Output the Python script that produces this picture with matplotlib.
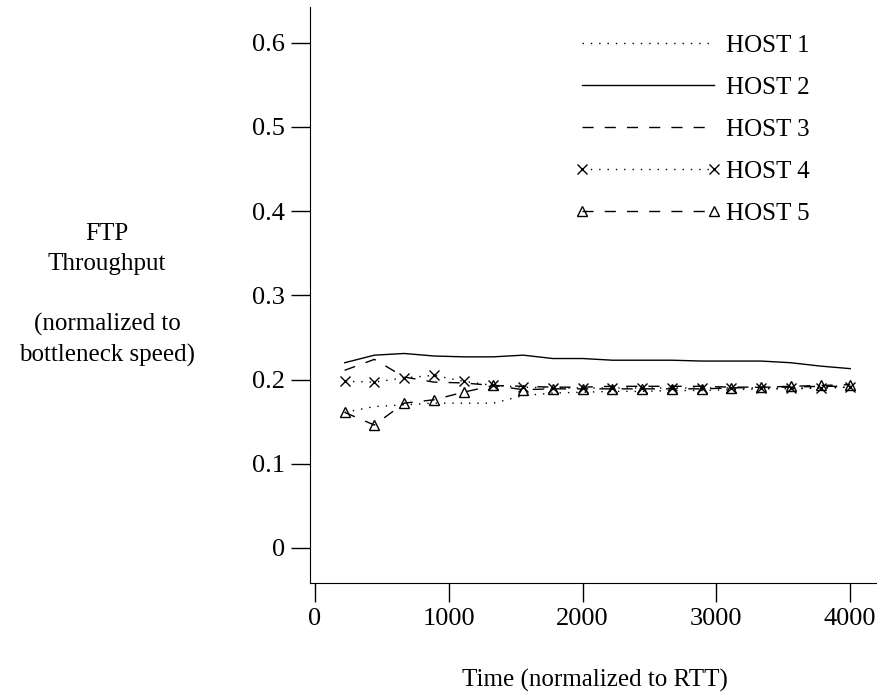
import matplotlib.pyplot as plt
import numpy as np

plt.rcParams['font.family'] = ['Liberation Serif', 'DejaVu Serif']

# time in RTT units
t = [222, 444, 667, 889, 1111, 1333, 1556, 1778, 2000,
     2222, 2444, 2667, 2889, 3111, 3333, 3556, 3778, 4000]

host1 = [0.161, 0.168, 0.170, 0.172, 0.172, 0.172, 0.181, 0.184, 0.185,
         0.186, 0.186, 0.187, 0.187, 0.188, 0.189, 0.189, 0.190, 0.191]
host2 = [0.220, 0.229, 0.231, 0.228, 0.227, 0.227, 0.229, 0.225, 0.225,
         0.223, 0.223, 0.223, 0.222, 0.222, 0.222, 0.220, 0.216, 0.213]
host3 = [0.211, 0.224, 0.203, 0.197, 0.196, 0.193, 0.192, 0.191, 0.191,
         0.192, 0.192, 0.192, 0.192, 0.191, 0.191, 0.191, 0.192, 0.192]
host4 = [0.198, 0.197, 0.202, 0.205, 0.198, 0.193, 0.191, 0.190, 0.190,
         0.190, 0.190, 0.190, 0.190, 0.190, 0.190, 0.190, 0.190, 0.191]
host5 = [0.161, 0.146, 0.172, 0.176, 0.185, 0.193, 0.188, 0.189, 0.189,
         0.189, 0.189, 0.189, 0.189, 0.190, 0.191, 0.192, 0.193, 0.194]

xticks = [0, 1000, 2000, 3000, 4000]
yticks = [0, 0.1, 0.2, 0.3, 0.4, 0.5, 0.6]
ytick_labels = ['0', '0.1', '0.2', '0.3', '0.4', '0.5', '0.6']

fig = plt.figure(figsize=(8.77, 6.98), dpi=100)
ax = fig.add_axes([310 / 877, 1 - 583 / 698, (877 - 310) / 877, (583 - 7) / 698])

dot = (0, (1, 5))
dash = (0, (8, 8))
ax.plot(t, host1, color='black', lw=1, ls=dot, label='HOST 1')
ax.plot(t, host2, color='black', lw=1, ls='-', label='HOST 2')
ax.plot(t, host3, color='black', lw=1, ls=dash, label='HOST 3')
ax.plot(t, host4, color='black', lw=1, ls=dot, marker='x', ms=6.5,
        mew=1, label='HOST 4')
ax.plot(t, host5, color='black', lw=1, ls=dash, marker='^', ms=6.5,
        mfc='none', mew=1, label='HOST 5')

ax.set_xlim(-37, 4200)
ax.set_ylim(-0.0416, 0.6425)
ax.set_xticks(xticks)
ax.set_yticks(yticks)
ax.set_yticklabels(ytick_labels)
ax.tick_params(direction='out', length=14, width=1, labelsize=19, pad=4)

for side in ['top', 'right']:
    ax.spines[side].set_visible(False)

leg = fig.legend(loc='upper left', bbox_to_anchor=(574 / 877, 1 - 34 / 698),
                 frameon=False, numpoints=2, handlelength=5.9,
                 handletextpad=0.18, labelspacing=0.78, fontsize=18,
                 borderpad=0, borderaxespad=0)

fig.text(107 / 877, 1 - 295 / 698,
         'FTP\nThroughput\n\n(normalized to\nbottleneck speed)',
         ha='center', va='center', fontsize=18, linespacing=1.45)
fig.text(595 / 877, 1 - 680 / 698, 'Time (normalized to RTT)',
         ha='center', va='center', fontsize=18)

plt.savefig('out.png')
